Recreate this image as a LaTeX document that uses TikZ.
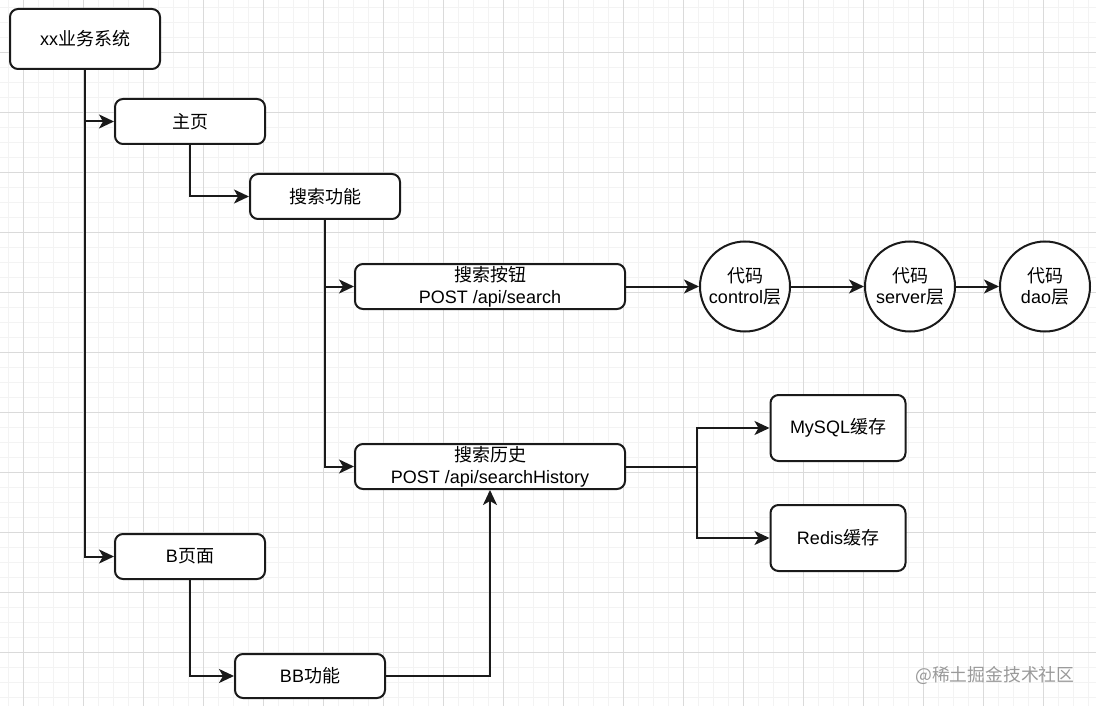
\documentclass[tikz,border=0pt]{standalone}
\usepackage{fontspec}
\setmainfont{Liberation Sans}
\newfontfamily\cjk{Noto Sans CJK SC}
\usetikzlibrary{arrows.meta}
\definecolor{gridminor}{HTML}{F3F3F3}
\definecolor{gridmajor}{HTML}{DADADA}
\definecolor{wmark}{HTML}{9A9A9A}
\definecolor{ink}{HTML}{1A1A1A}
\tikzset{
  box/.style={draw=ink, line width=2pt, rounded corners=8pt, fill=white,
    inner sep=0pt, align=center, font=\fontsize{18pt}{21.6pt}\selectfont},
  circ/.style={draw=ink, line width=2pt, circle, fill=white, minimum size=90pt,
    inner sep=0pt, align=center, font=\fontsize{18pt}{21.6pt}\selectfont},
  conn/.style={line width=2pt, draw=ink, -{Stealth[length=15pt,width=14pt,inset=4pt]}},
  plain/.style={line width=2pt, draw=ink},
}
\begin{document}
\begin{tikzpicture}[x=1pt,y=-1pt]
\useasboundingbox (0,0) rectangle (1096,706);
\fill[white] (0,0) rectangle (1096,706);
% grid
\foreach \x in {8.5,23.5,...,1096} \draw[gridminor, line width=1pt] (\x,0) -- (\x,706);
\foreach \y in {7.5,22.5,...,706} \draw[gridminor, line width=1pt] (0,\y) -- (1096,\y);
\foreach \x in {23.5,83.5,...,1096} \draw[gridmajor, line width=1pt] (\x,0) -- (\x,706);
\foreach \y in {52.5,112.5,...,706} \draw[gridmajor, line width=1pt] (0,\y) -- (1096,\y);

% nodes
\node[box, minimum width=150pt, minimum height=60pt] (sys) at (85,39) {xx{\cjk 业务系统}};
\node[box, minimum width=150pt, minimum height=45pt] (home) at (190,121.5) {{\cjk 主页}};
\node[box, minimum width=150pt, minimum height=45pt] (search) at (325,196.5) {{\cjk 搜索功能}};
\node[box, minimum width=270pt, minimum height=45pt] (btn) at (490,286.5) {{\cjk 搜索按钮}\\POST /api/search};
\node[box, minimum width=270pt, minimum height=45pt] (hist) at (490,466.5) {{\cjk 搜索历史}\\POST /api/searchHistory};
\node[circ] (c1) at (745,286.5) {{\cjk 代码}\\control{\cjk 层}};
\node[circ] (c2) at (910,286.5) {{\cjk 代码}\\server{\cjk 层}};
\node[circ] (c3) at (1045,286.5) {{\cjk 代码}\\dao{\cjk 层}};
\node[box, minimum width=135pt, minimum height=66pt] (mysql) at (838,428) {MySQL{\cjk 缓存}};
\node[box, minimum width=135pt, minimum height=66pt] (redis) at (838,538) {Redis{\cjk 缓存}};
\node[box, minimum width=150pt, minimum height=45pt] (bpage) at (190,556.5) {B{\cjk 页面}};
\node[box, minimum width=150pt, minimum height=44pt] (bb) at (310,676) {BB{\cjk 功能}};

\node[anchor=west, inner sep=0pt, text=wmark, font=\fontsize{17.8pt}{20pt}\selectfont\cjk] (wm) at (915,675) {@稀土掘金技术社区};

% connectors
\coordinate (jn) at (697,466.5);
\draw[conn] (sys.south) |- (home.west);
\draw[conn] (sys.south) |- (bpage.west);
\draw[conn] (home.south) |- (search.west);
\draw[conn] (search.south) |- (btn.west);
\draw[conn] (search.south) |- (hist.west);
\draw[conn] (btn.east) -- (c1.west);
\draw[conn] (c1.east) -- (c2.west);
\draw[conn] (c2.east) -- (c3.west);
\draw[plain] (hist.east) -- (jn);
\draw[conn] (jn) |- (mysql.west);
\draw[conn] (jn) |- (redis.west);
\draw[conn] (bpage.south) |- (bb.west);
\draw[conn] (bb.east) -| (hist.south);
\end{tikzpicture}
\end{document}
